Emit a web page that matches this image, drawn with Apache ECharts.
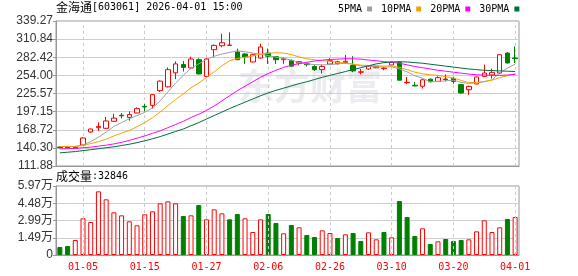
<!DOCTYPE html>
<html><head><meta charset="utf-8">
<script src="https://cdn.jsdelivr.net/npm/echarts@6/dist/echarts.min.js"></script>
<style>html,body{margin:0;padding:0;background:#fff}#c{width:578px;height:276px}</style>
</head><body><div id="c"></div>
<script>
const dates = ['12-29','12-30','12-31','01-05','01-06','01-07','01-08','01-09','01-12','01-13','01-14','01-15','01-16','01-19','01-20','01-21','01-22','01-23','01-26','01-27','01-28','01-29','01-30','02-02','02-03','02-04','02-05','02-06','02-09','02-10','02-11','02-12','02-13','02-24','02-25','02-26','02-27','03-02','03-03','03-04','03-05','03-06','03-09','03-10','03-11','03-12','03-13','03-16','03-17','03-18','03-19','03-20','03-23','03-24','03-25','03-26','03-27','03-30','03-31','04-01'];
const tickDates = ['01-05','01-15','01-27','02-06','02-26','03-10','03-20','04-01'];
const opens  = [141.5,141.8,140.5,144.8,165.2,172,171,182,191.5,188,195,205.5,207,230,236,258,271,265.6,278.6,252.4,294.3,300.5,301,290.7,287.5,275,281.3,289,283.3,278.6,277,273.5,272.3,268,263,271.8,272.3,274,269.5,259,264,266,264.5,270.3,274,242.5,238.5,237,248,244.6,247.5,249,239.5,231.5,240.5,252.4,254.6,257.7,289,281.2];
const closes = [140.6,140.5,141.5,155.8,169.9,174,182.5,187,190.5,192.5,201.8,204.5,223.7,245,263,272,266.5,279.7,256.2,279.7,301,305.2,301.5,278.6,282.8,286.4,298.5,284,278.6,280.5,268.5,275.5,270.8,263,268,277,275.5,276,261,259.5,268,268.3,265.5,274.4,246.5,243.2,237.5,247,244,250.4,248.3,244.5,226.5,236.7,251.5,257.7,258.7,286.4,273.5,280.3];
const lows   = [139.8,139.5,140,143.5,164,166.8,170,181,186.5,183,194.5,197.5,202,228,235,248,260,264.5,255.5,252,282,298,300.5,278,272,274.5,280,272,272,272,267,270,268,261,257,270,271,272,259,255.5,263,265,262,269,246,240.5,237,233.5,243,244,244.5,241,225,223.5,240,251.5,249,256,272.5,273.4];
const highs  = [142.5,143,143.5,157,170.5,180.3,188.7,194,195,197.5,203.8,209,224.5,246,266.5,276,276.5,283.3,281,281,302.5,319.4,321.5,296,289,288,303.7,296,284,282,279,276.5,274,270,271,281,277,286,284,264,269.5,269,267,275.5,276,251.5,243.5,248.5,249,252.6,255.5,252,240.5,238,252,271,264.5,287,290.5,299.4];
const ma5  = [142.5,142.3,142.5,145,150,157,165,174,180,186,191,196,203,214,228,242,254,265,272,279,284,287.5,290,292.5,291,289,287,285,282.5,280.5,278,274,272,271,270.5,271,272,273,271.5,269,268,267.5,267,267.5,264,259.5,253.5,249.5,244,244.5,245.5,246.5,243,241.5,242,244,247,258,265.5,271.5];
const ma10 = [142.5,142.5,142.5,144,147,150,154,159,163.5,167.5,173.5,180,187.5,196.5,206.5,216,225,234.5,242,250.5,259.5,269,277,280.5,282.5,284.5,287.5,288.5,289.5,289,286.5,283,280,278.5,277,276,274.5,273.5,271.5,270,269.5,269,268.5,269,266.5,263,259,256.5,255,254,252,250,246,242.5,243,244.5,246.5,250.5,253.5,256.5];
const ma20 = [138.5,139,139.5,140.5,141.5,143,144.5,146.5,149,152,155.5,159,163,167,172,177,182,188,193,199,206,214,222,230,237,244,251,257,262,266.5,270,272.5,274.5,276.5,278,279,279.5,280,280,279.5,278,277,275.5,274.5,273,270.5,268,266,264,262,260.5,259,257.5,256,255,254.5,254,254,254.5,255.5];
const ma30 = [132.5,133.5,134.5,136,137.5,139,140.5,142,144,146,148.5,151.5,154.5,158,162,166,170,175,180,185.5,191,196.5,202,207,212,217,222,226.5,230.5,234,237.5,241,244,247.5,251,254,257,260,263,266,269,272,274,275,275.5,275,274,273,271.5,270,268.5,267,265.5,264,263,262,261.5,261,260.5,260];
const volumes = [6920,7790,12980,31720,28550,55080,48160,36910,34320,29130,25670,35180,37780,44700,46430,44700,33740,34320,43260,30860,39510,36050,30860,35470,31720,19900,30860,35470,27690,18750,25960,23940,17300,15570,21340,19030,14710,17880,19030,12110,19610,13550,19900,15290,46720,32880,16440,23070,9520,11820,13840,12110,12980,13550,20480,29990,19900,23940,31150,32846];
const volUp = [0,0,1,1,1,1,1,1,1,1, 1,1,1,1,1,1,0,1,0,1, 1,1,0,0,1,1,1,0,0,1, 0,1,0,0,1,1,0,1,0,0, 1,1,0,1,0,0,0,1,0,1, 0,0,0,1,1,1,1,1,0,1];
const priceTicks = [111.88,140.30,168.72,197.15,225.57,254.00,282.42,310.84,339.27];
const volTicks = [0,14925,29850,44775,59700];
const volTickLabels = ['0','1.49万','2.99万','4.48万','5.97万'];
const stockTitle = '金海通';
const stockInfo = '[603061] 2026-04-01 15:00';
const volTitle = '成交量';
const volLast = ':32846';
const maNames = ['5PMA','10PMA','20PMA','30PMA'];
const maData = [ma5, ma10, ma20, ma30];
const maColors = ['#a0a0a0','#f5a200','#ff00ff','#00703a'];

const RED = '#ff0000', GREEN = '#008000';
const kData = opens.map((o,i)=>[o, closes[i], lows[i], highs[i]]);
const volData = volumes.map((v,i)=>({value:v, itemStyle: volUp[i] ? {color:'#ffffff', borderColor:RED, borderWidth:1} : {color:GREEN, borderColor:GREEN, borderWidth:1}}));
const vLines = tickDates.map(d=>({xAxis:d}));
const vLineStyle = {type:[3,3], color:'#cccccc', width:1};

const chart = echarts.init(document.getElementById('c'), null, {renderer:'canvas'});
const mono = 'DejaVu Sans Mono';
const cjk = 'Noto Sans CJK SC';
chart.setOption({
  animation:false,
  backgroundColor:'#ffffff',
  title:[
    {text:'{a|'+stockTitle+'}{b|'+stockInfo+'}', left:56, top:1, padding:0,
     textStyle:{fontWeight:'normal', color:'#000', rich:{a:{fontFamily:cjk,fontSize:12,color:'#000'}, b:{fontFamily:mono,fontSize:10,color:'#000'}}}},
    {text:'{a|'+volTitle+'}{b|'+volLast+'}', left:56, top:170, padding:0,
     textStyle:{fontWeight:'normal', color:'#000', rich:{a:{fontFamily:cjk,fontSize:12,color:'#000'}, b:{fontFamily:mono,fontSize:10,color:'#000'}}}}
  ],
  legend:{data:maNames, left:338, top:4, padding:0, itemWidth:5, itemHeight:5, itemGap:9, align:'right', icon:'rect', selectedMode:false,
    textStyle:{fontFamily:mono, fontSize:10, color:'#000', padding:[0,0,0,0]}},
  graphic:[{type:'text', left:238, top:68, z:-10, silent:true,
    style:{text:'东方财富', font:'bold 36px "Noto Sans CJK SC"', fill:'#ececf0'}}],
  grid:[
    {left:56, top:21, width:463, height:145, show:true, borderColor:'#999', borderWidth:1},
    {left:56, top:186, width:463, height:69, show:true, borderColor:'#999', borderWidth:1}
  ],
  xAxis:[
    {type:'category', gridIndex:0, data:dates, boundaryGap:true,
     axisLine:{lineStyle:{color:'#999'}}, axisTick:{show:false}, axisLabel:{show:false}, splitLine:{show:false}},
    {type:'category', gridIndex:1, data:dates, boundaryGap:true,
     axisLine:{lineStyle:{color:'#999'}}, axisTick:{show:false}, splitLine:{show:false},
     axisLabel:{interval:(i,v)=>tickDates.indexOf(v)>=0, color:RED, fontFamily:mono, fontSize:10, margin:7}}
  ],
  yAxis:[
    {type:'value', gridIndex:0, min:priceTicks[0], max:priceTicks[priceTicks.length-1], scale:true,
     axisLine:{show:true, lineStyle:{color:'#999'}},
     axisTick:{show:true, length:3, customValues:priceTicks, lineStyle:{color:'#999'}},
     axisLabel:{customValues:priceTicks, formatter:v=>v.toFixed(2), fontFamily:'Liberation Sans', fontSize:12, color:'#333', margin:3},
     splitLine:{show:true, lineStyle:{color:'#cfcfcf'}}},
    {type:'value', gridIndex:1, min:volTicks[0], max:volTicks[volTicks.length-1],
     axisLine:{show:true, lineStyle:{color:'#999'}},
     axisTick:{show:true, length:3, customValues:volTicks, lineStyle:{color:'#999'}},
     axisLabel:{customValues:volTicks, formatter:v=>volTickLabels[volTicks.indexOf(v)], fontFamily:'Liberation Sans, Noto Sans CJK SC', fontSize:12, color:'#333', margin:3},
     splitLine:{show:true, lineStyle:{color:'#cfcfcf'}}}
  ],
  series:[
    {type:'candlestick', name:'K', xAxisIndex:0, yAxisIndex:0, data:kData, barWidth:5,
     itemStyle:{color:'#ffffff', borderColor:RED, color0:GREEN, borderColor0:GREEN, borderWidth:1},
     markLine:{silent:true, symbol:'none', label:{show:false}, lineStyle:vLineStyle, data:vLines, z:0}},
    ...maNames.map((n,k)=>({type:'line', name:n, xAxisIndex:0, yAxisIndex:0, data:maData[k], symbol:'none', showSymbol:false,
      color:maColors[k], lineStyle:{width:1, color:maColors[k]}, z:3})),
    {type:'bar', name:'VOL', xAxisIndex:1, yAxisIndex:1, data:volData, barWidth:5,
     markLine:{silent:true, symbol:'none', label:{show:false}, lineStyle:vLineStyle, data:vLines}}
  ]
});
</script></body></html>
